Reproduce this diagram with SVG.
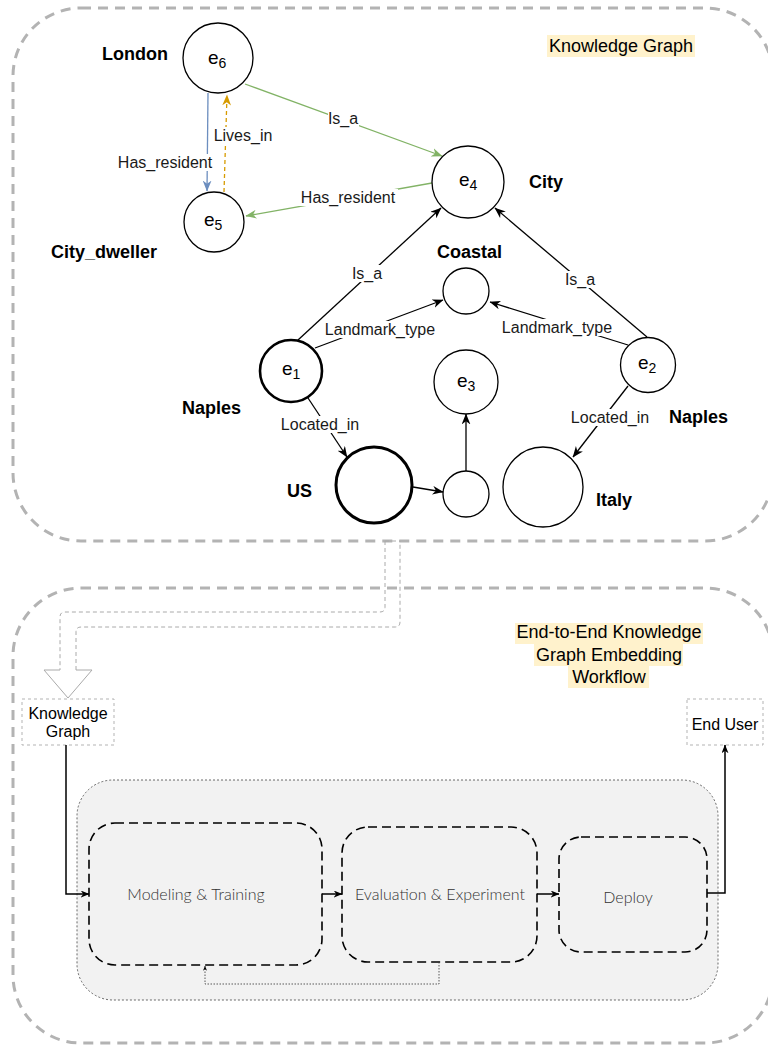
<svg xmlns="http://www.w3.org/2000/svg" width="768" height="1045" viewBox="0 0 768 1045">
  <defs>
    <style>
      .frame { fill: none; stroke: #b3b3b3; stroke-width: 3; stroke-dasharray: 10 7; }
      .node { fill: #ffffff; stroke: #000000; stroke-width: 1.3; }
      .node-bold { fill: #ffffff; stroke: #000000; stroke-width: 2.6; }
      .ent { font-family: "Liberation Sans", Arial, sans-serif; font-size: 19px; fill: #000; }
      .sub { font-size: 14px; }
      .tag { font-family: "Liberation Sans", Arial, sans-serif; font-size: 18px; font-weight: bold; fill: #000; }
      .lbl { font-family: "Liberation Sans", Arial, sans-serif; font-size: 16px; fill: #1a1a1a; text-anchor: middle; }
      .lblbg { fill: #ffffff; }
      .edge { fill: none; stroke: #000000; stroke-width: 1.3; }
      .title { font-family: "Liberation Sans", Arial, sans-serif; font-size: 18px; fill: #000; text-anchor: middle; }
      .hl { fill: #fff2cc; }
      .box { fill: #ffffff; stroke: #b3b3b3; stroke-width: 1; stroke-dasharray: 3 3; }
      .boxtxt { font-family: "Liberation Sans", Arial, sans-serif; font-size: 16px; fill: #000; text-anchor: middle; }
      .stage { fill: none; stroke: #000000; stroke-width: 1.6; stroke-dasharray: 9 5; }
      .stagetxt { font-family: Lato, "Open Sans", sans-serif; font-weight: 300; font-size: 16px; fill: #333333; text-anchor: middle; }
      .flow { fill: none; stroke: #000000; stroke-width: 1.5; }
    </style>
    <marker id="arr-black" viewBox="0 0 10 8" markerWidth="11" markerHeight="9" refX="9.5" refY="4" orient="auto" markerUnits="userSpaceOnUse">
      <path d="M0,0 L10,4 L0,8 L3,4 Z" fill="#000000"/>
    </marker>
    <marker id="arr-green" viewBox="0 0 10 8" markerWidth="11" markerHeight="9" refX="9.5" refY="4" orient="auto" markerUnits="userSpaceOnUse">
      <path d="M0,0 L10,4 L0,8 L3,4 Z" fill="#82b366"/>
    </marker>
    <marker id="arr-blue" viewBox="0 0 10 8" markerWidth="11" markerHeight="9" refX="9.5" refY="4" orient="auto" markerUnits="userSpaceOnUse">
      <path d="M0,0 L10,4 L0,8 L3,4 Z" fill="#6c8ebf"/>
    </marker>
    <marker id="arr-orange" viewBox="0 0 10 8" markerWidth="11" markerHeight="9" refX="9.5" refY="4" orient="auto" markerUnits="userSpaceOnUse">
      <path d="M0,0 L10,4 L0,8 L3,4 Z" fill="#d79b00"/>
    </marker>
    <marker id="arr-small" viewBox="0 0 10 8" markerWidth="9" markerHeight="7" refX="9.5" refY="4" orient="auto" markerUnits="userSpaceOnUse">
      <path d="M0,0 L10,4 L0,8 L3,4 Z" fill="#000000"/>
    </marker>
    <marker id="arr-tiny" viewBox="0 0 10 8" markerWidth="5" markerHeight="4" refX="9.5" refY="4" orient="auto" markerUnits="userSpaceOnUse">
      <path d="M0,0 L10,4 L0,8 L3,4 Z" fill="#000000"/>
    </marker>
  </defs>

  <rect width="768" height="1045" fill="#ffffff"/>

  <!-- outer frames -->
  <g id="kg-frame">
    <rect class="frame" x="13" y="8" width="760" height="533" rx="68" ry="68"/>
  </g>
  <g id="workflow-frame">
    <rect class="frame" x="13" y="588" width="760" height="455" rx="68" ry="68"/>
  </g>

  <!-- hollow transfer arrow between the two frames -->
  <g id="transfer-arrow">
    <path d="M385,541 L385,607 Q385,612 380,612 L65,612 Q60,612 60,617 L60,670 M76,670 L76,632 Q76,627 81,627 L395,627 Q400,627 400,622 L400,541 M385,541 L400,541" fill="none" stroke="#aaaaaa" stroke-width="1" stroke-dasharray="4 3"/>
    <path d="M60,670 L44,670 L68,698 L92,670 L76,670" fill="none" stroke="#aaaaaa" stroke-width="1"/>
  </g>

  <!-- titles -->
  <g id="kg-title">
    <rect class="hl" x="547" y="35" width="148" height="22"/>
    <text class="title" x="621" y="52">Knowledge Graph</text>
  </g>
  <g id="workflow-title">
    <rect class="hl" x="515" y="623" width="188" height="21"/>
    <rect class="hl" x="534" y="644" width="149" height="22"/>
    <rect class="hl" x="568" y="666" width="81" height="22"/>
    <text class="title" x="609" y="638">End-to-End Knowledge</text>
    <text class="title" x="609" y="661">Graph Embedding</text>
    <text class="title" x="609" y="683">Workflow </text>
  </g>

  <!-- knowledge graph connectors -->
  <g id="kg-edges">
    <path d="M245,84 L442,156" fill="none" stroke="#82b366" stroke-width="1.3" marker-end="url(#arr-green)"/>
    <path d="M432,183 L246,216" fill="none" stroke="#82b366" stroke-width="1.3" marker-end="url(#arr-green)"/>
    <path d="M208,93 L207,191" fill="none" stroke="#6c8ebf" stroke-width="1.3" marker-end="url(#arr-blue)"/>
    <path d="M224,192 L227,95" fill="none" stroke="#d79b00" stroke-width="1.3" stroke-dasharray="4 3" marker-end="url(#arr-orange)"/>
    <path class="edge" d="M298,340 L441,208" marker-end="url(#arr-black)"/>
    <path class="edge" d="M647,337 L495,208" marker-end="url(#arr-black)"/>
    <path class="edge" d="M315,348 L443,300" marker-end="url(#arr-black)"/>
    <path class="edge" d="M628,345 L490,302" marker-end="url(#arr-black)"/>
    <path class="edge" d="M308,398 L347,457" marker-end="url(#arr-black)"/>
    <path class="edge" d="M628,386 L573,457" marker-end="url(#arr-black)"/>
    <path class="edge" d="M413,487 L443,492" marker-end="url(#arr-black)"/>
    <path class="edge" d="M466,471 L466,414" marker-end="url(#arr-black)"/>

    <!-- edge labels -->
    <rect class="lblbg" x="328" y="110" width="31" height="17"/>
    <text class="lbl" x="343" y="124">Is_a</text>
    <rect class="lblbg" x="299" y="189" width="99" height="17"/>
    <text class="lbl" x="348" y="203">Has_resident</text>
    <rect class="lblbg" x="116" y="154" width="99" height="17"/>
    <text class="lbl" x="165" y="168">Has_resident</text>
    <rect class="lblbg" x="213" y="127" width="60" height="17"/>
    <text class="lbl" x="243" y="141">Lives_in</text>
    <rect class="lblbg" x="352" y="265" width="31" height="17"/>
    <text class="lbl" x="367" y="279">Is_a</text>
    <rect class="lblbg" x="564" y="271" width="31" height="17"/>
    <text class="lbl" x="580" y="285">Is_a</text>
    <rect class="lblbg" x="324" y="321" width="112" height="17"/>
    <text class="lbl" x="380" y="335">Landmark_type</text>
    <rect class="lblbg" x="501" y="319" width="112" height="17"/>
    <text class="lbl" x="557" y="333">Landmark_type</text>
    <rect class="lblbg" x="280" y="416" width="80" height="17"/>
    <text class="lbl" x="320" y="430">Located_in</text>
    <rect class="lblbg" x="570" y="409" width="80" height="17"/>
    <text class="lbl" x="610" y="423">Located_in</text>
  </g>

  <!-- knowledge graph nodes -->
  <g id="e6">
    <circle class="node" cx="218" cy="58" r="35"/>
    <text class="ent" x="208" y="64">e<tspan class="sub" dy="4">6</tspan></text>
    <text class="tag" x="102" y="60">London</text>
  </g>
  <g id="e5">
    <circle class="node" cx="214" cy="222" r="30"/>
    <text class="ent" x="204" y="226">e<tspan class="sub" dy="4">5</tspan></text>
    <text class="tag" x="51" y="258">City_dweller</text>
  </g>
  <g id="e4">
    <circle class="node" cx="468" cy="182" r="36"/>
    <text class="ent" x="459" y="186">e<tspan class="sub" dy="4">4</tspan></text>
    <text class="tag" x="529" y="188">City</text>
  </g>
  <g id="coastal">
    <circle class="node" cx="466" cy="291" r="23"/>
    <text class="tag" x="437" y="258">Coastal</text>
  </g>
  <g id="e1">
    <circle class="node-bold" cx="291" cy="371" r="31"/>
    <text class="ent" x="282" y="375">e<tspan class="sub" dy="4">1</tspan></text>
    <text class="tag" x="182" y="414">Naples</text>
  </g>
  <g id="e2">
    <circle class="node" cx="648" cy="365" r="27.5"/>
    <text class="ent" x="638" y="369">e<tspan class="sub" dy="4">2</tspan></text>
    <text class="tag" x="669" y="423">Naples</text>
  </g>
  <g id="e3">
    <circle class="node" cx="466" cy="382" r="32"/>
    <text class="ent" x="457" y="387">e<tspan class="sub" dy="4">3</tspan></text>
  </g>
  <g id="us">
    <circle cx="374" cy="485" r="38" fill="#ffffff" stroke="#000000" stroke-width="3"/>
    <text class="tag" x="287" y="497">US</text>
  </g>
  <g id="us-link">
    <circle class="node" cx="466" cy="494" r="23"/>
  </g>
  <g id="italy">
    <circle class="node" cx="543" cy="487" r="40"/>
    <text class="tag" x="596" y="506">Italy</text>
  </g>

  <!-- workflow -->
  <g id="pipeline">
    <rect x="77" y="780" width="641" height="220" rx="36" ry="36" fill="#f2f2f2" stroke="#444444" stroke-width="0.8" stroke-dasharray="2 2"/>
  </g>
  <g id="kg-input">
    <rect class="box" x="22" y="699" width="92" height="46"/>
    <text class="boxtxt" x="68" y="719">Knowledge</text>
    <text class="boxtxt" x="68" y="737">Graph</text>
  </g>
  <g id="end-user">
    <rect class="box" x="687" y="699" width="76" height="46"/>
    <text class="boxtxt" x="725" y="730">End User</text>
  </g>
  <g id="modeling">
    <rect class="stage" x="89" y="823" width="233" height="142" rx="26" ry="26"/>
    <text class="stagetxt" x="196" y="900">Modeling &amp; Training</text>
  </g>
  <g id="evaluation">
    <rect class="stage" x="342" y="827" width="195" height="135" rx="26" ry="26"/>
    <text class="stagetxt" x="440" y="900">Evaluation &amp; Experiment</text>
  </g>
  <g id="deploy">
    <rect class="stage" x="559" y="837" width="148" height="115" rx="22" ry="22"/>
    <text class="stagetxt" x="628" y="903">Deploy</text>
  </g>

  <g id="workflow-edges">
    <path class="flow" d="M66,745 L66,894 L89,894" marker-end="url(#arr-small)"/>
    <path class="flow" d="M322,894 L342,894" marker-end="url(#arr-small)"/>
    <path class="flow" d="M537,894 L559,894" marker-end="url(#arr-small)"/>
    <path class="flow" d="M707,893 L725,893 L725,745" marker-end="url(#arr-small)"/>
    <path d="M439,962 L439,984 L205,984 L205,966" fill="none" stroke="#333333" stroke-width="0.8" stroke-dasharray="1.5 1.5" marker-end="url(#arr-tiny)"/>
  </g>
</svg>
